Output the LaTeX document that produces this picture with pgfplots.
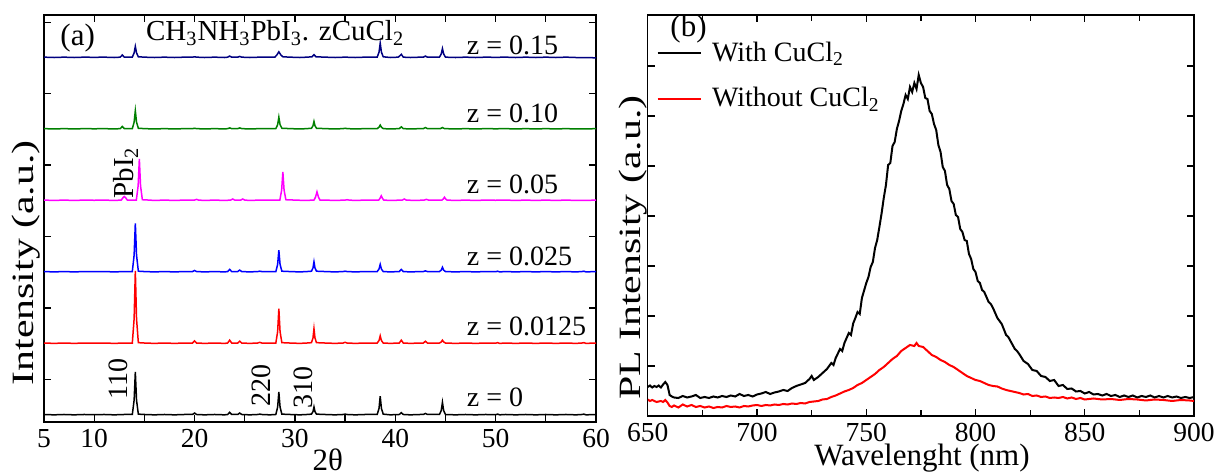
\documentclass[border=0pt]{standalone}
\usepackage{fontspec}
\setmainfont{Liberation Serif}
\usepackage{graphicx}
\usepackage{pgfplots}
\pgfplotsset{compat=1.18}
\definecolor{cnavy}{RGB}{0,0,128}
\definecolor{cgreen}{RGB}{0,128,0}
\definecolor{cmag}{RGB}{255,0,255}
\definecolor{cblue}{RGB}{0,0,255}
\definecolor{cred}{RGB}{255,0,0}
\newcommand{\zf}{\fontsize{14}{16}\selectfont}
\pgfplotsset{myax/.style={
  scale only axis, anchor=south west, tick align=inside,
  major tick length=3.5pt, minor tick length=3pt,
  every tick/.style={black, line width=0.6pt},
  axis line style={line width=0.6pt},
  tick label style={font=\rmfamily\fontsize{13.75}{16}\selectfont},
  label style={font=\rmfamily\fontsize{15.5}{18}\selectfont, inner sep=0pt},
  /pgf/number format/assume math mode=true,
}}
\begin{document}
\begin{tikzpicture}
\useasboundingbox (0,0) rectangle (608pt,237pt);
\begin{axis}[myax, at={(22pt,26pt)}, width=276pt, height=203.5pt,
  xmin=5, xmax=60, ymin=-0.19, ymax=11.2,
  xtick={5,10,...,60}, xticklabels={5,10,,20,,30,,40,,50,,60},
  ytick={1,3,5,7,9,11}, yticklabels={},
  xlabel={2θ}, ylabel={\scalebox{1.35}[1]{Intensity (a.u.)}},
  xlabel style={at={(axis description cs:0.514,-0.094)}, anchor=center},
  ylabel style={at={(axis description cs:-0.0317,0.391)}, anchor=center}]
% z = 0
\addplot[black, line width=0.75pt] coordinates {(5,0.02)(6,0.01)(7,0.02)(8,0.01)(9,0.02)(10,0.015)(11,0.02)(12,0.01)(13,0.02)
(13.8,0.02)(13.98,0.42)(14.1,1.21)(14.22,0.42)(14.4,0.03)
(15,0.02)(16,0.01)(17,0.02)(18,0.01)(19,0.02)(19.8,0.02)(20.0,0.06)(20.2,0.02)
(21,0.01)(22,0.02)(23,0.01)(23.3,0.02)(23.5,0.08)(23.7,0.02)(24.3,0.02)(24.5,0.06)(24.7,0.02)
(25.5,0.01)(26.3,0.02)(26.5,0.03)(26.7,0.02)(27.5,0.01)
(28.1,0.02)(28.28,0.23)(28.4,0.65)(28.52,0.23)(28.7,0.03)
(29.5,0.02)(30.5,0.01)(31.2,0.02)(31.65,0.03)(31.8,0.1)(31.9,0.23)(32.0,0.1)(32.15,0.03)
(33,0.02)(34,0.01)(34.8,0.02)(35.0,0.03)(35.2,0.02)(36,0.01)(37,0.02)(38,0.02)
(38.2,0.02)(38.38,0.19)(38.5,0.53)(38.62,0.19)(38.8,0.03)
(39.5,0.01)(40.4,0.02)(40.6,0.07)(40.8,0.02)(41.5,0.01)(42.5,0.02)(42.8,0.02)(43.0,0.05)(43.2,0.02)(44.0,0.02)
(44.4,0.02)(44.58,0.13)(44.7,0.36)(44.82,0.13)(45.0,0.02)
(46,0.01)(47,0.02)(48,0.01)(49,0.02)(50,0.015)(50.2,0.03)(50.4,0.01)(51,0.02)(52,0.01)(53,0.02)(54,0.01)(55,0.02)(56,0.01)(57,0.02)(58,0.01)(58.6,0.02)(58.8,0.03)(59,0.01)(60,0.02)};
% z = 0.0125
\addplot[cred, line width=0.75pt] coordinates {(5,2.02)(6,2.01)(7,2.02)(8,2.01)(9,2.02)(10,2.015)(11,2.02)(12,2.01)(13,2.02)
(13.8,2.02)(13.98,2.7)(14.1,4.04)(14.22,2.7)(14.4,2.03)
(15,2.02)(16,2.01)(17,2.02)(18,2.01)(19,2.02)(19.8,2.02)(20.0,2.08)(20.2,2.02)
(21,2.01)(22,2.02)(23,2.01)(23.3,2.02)(23.5,2.10)(23.7,2.02)(24.3,2.02)(24.5,2.07)(24.7,2.02)
(25.5,2.01)(26.3,2.02)(26.5,2.04)(26.7,2.02)(27.5,2.02)
(28.1,2.02)(28.28,2.34)(28.4,2.98)(28.52,2.34)(28.7,2.03)
(29.5,2.02)(30.5,2.01)(31.2,2.02)(31.65,2.03)(31.8,2.16)(31.9,2.42)(32.0,2.16)(32.15,2.03)
(33,2.02)(34,2.01)(34.8,2.02)(35.0,2.04)(35.2,2.02)(36,2.01)(37,2.02)(38,2.02)
(38.2,2.02)(38.38,2.09)(38.5,2.22)(38.62,2.09)(38.8,2.02)
(39.5,2.01)(40.4,2.02)(40.6,2.10)(40.8,2.02)(41.5,2.01)(42.5,2.02)(42.8,2.02)(43.0,2.07)(43.2,2.02)(44.0,2.02)
(44.4,2.02)(44.58,2.05)(44.7,2.10)(44.82,2.05)(45.0,2.02)
(46,2.01)(47,2.02)(48,2.01)(49,2.02)(50,2.015)(50.2,2.03)(50.4,2.01)(51,2.02)(52,2.01)(53,2.02)(54,2.01)(55,2.02)(56,2.01)(57,2.02)(58,2.01)(58.6,2.02)(58.8,2.03)(59,2.01)(60,2.02)};
% z = 0.025
\addplot[cblue, line width=0.75pt] coordinates {(5,4.02)(6,4.01)(7,4.02)(8,4.01)(9,4.02)(10,4.015)(11,4.02)(12,4.01)(13,4.02)
(13.8,4.02)(13.98,4.48)(14.1,5.37)(14.22,4.48)(14.4,4.03)
(15,4.02)(16,4.01)(17,4.02)(18,4.01)(19,4.02)(19.8,4.02)(20.0,4.05)(20.2,4.02)
(21,4.01)(22,4.02)(23,4.01)(23.3,4.02)(23.5,4.08)(23.7,4.02)(24.3,4.02)(24.5,4.06)(24.7,4.02)
(25.5,4.01)(26.3,4.02)(26.5,4.03)(26.7,4.02)(27.5,4.02)
(28.1,4.02)(28.28,4.22)(28.4,4.62)(28.52,4.22)(28.7,4.03)
(29.5,4.02)(30.5,4.01)(31.2,4.02)(31.65,4.03)(31.8,4.12)(31.9,4.29)(32.0,4.12)(32.15,4.03)
(33,4.02)(34,4.01)(34.8,4.02)(35.0,4.03)(35.2,4.02)(36,4.01)(37,4.02)(38,4.02)
(38.2,4.02)(38.38,4.09)(38.5,4.22)(38.62,4.09)(38.8,4.02)
(39.5,4.01)(40.4,4.02)(40.6,4.08)(40.8,4.02)(41.5,4.01)(42.5,4.02)(42.8,4.02)(43.0,4.04)(43.2,4.02)(44.0,4.02)
(44.4,4.02)(44.58,4.06)(44.7,4.14)(44.82,4.06)(45.0,4.02)
(46,4.01)(47,4.02)(48,4.01)(49,4.02)(50,4.015)(50.2,4.03)(50.4,4.01)(51,4.02)(52,4.01)(53,4.02)(54,4.01)(55,4.02)(56,4.01)(57,4.02)(58,4.01)(58.6,4.02)(58.8,4.03)(59,4.01)(60,4.02)};
% z = 0.05
\addplot[cmag, line width=0.75pt] coordinates {(5,6.02)(6,6.01)(7,6.02)(8,6.01)(9,6.02)(10,6.015)(11,6.02)(12,6.01)
(12.7,6.02)(12.85,6.08)(13.0,6.12)(13.15,6.08)(13.3,6.02)(13.8,6.02)
(14.2,6.02)(14.38,6.42)(14.5,7.17)(14.62,6.42)(14.8,6.03)
(15.5,6.02)(16,6.01)(17,6.02)(18,6.01)(19,6.02)(20.0,6.02)(20.2,6.04)(20.4,6.02)
(21,6.01)(22,6.02)(23,6.01)(23.6,6.02)(23.8,6.05)(24.0,6.02)(24.6,6.02)(24.8,6.05)(25.0,6.02)
(25.5,6.01)(26.5,6.02)(27.5,6.02)
(28.5,6.02)(28.68,6.30)(28.8,6.81)(28.92,6.30)(29.1,6.03)
(30,6.02)(31,6.01)(31.9,6.02)(32.05,6.10)(32.2,6.25)(32.35,6.10)(32.5,6.02)
(33,6.02)(34,6.01)(35.0,6.02)(35.2,6.03)(35.4,6.02)(36,6.01)(37,6.02)(38,6.02)
(38.35,6.02)(38.48,6.07)(38.6,6.14)(38.72,6.07)(38.85,6.02)
(39.5,6.01)(40.7,6.02)(40.9,6.05)(41.1,6.02)(42,6.01)(42.9,6.02)(43.1,6.04)(43.3,6.02)(44.2,6.02)
(44.65,6.02)(44.78,6.05)(44.9,6.10)(45.02,6.05)(45.15,6.02)
(46,6.01)(47,6.02)(48,6.01)(49,6.02)(50,6.015)(50.4,6.02)(51,6.02)(52,6.01)(53,6.02)(54,6.01)(55,6.02)(56,6.01)(57,6.02)(58,6.01)(59,6.01)(60,6.02)};
% z = 0.10
\addplot[cgreen, line width=0.75pt] coordinates {(5,8.02)(6,8.01)(7,8.02)(8,8.01)(9,8.02)(10,8.015)(11,8.02)(12,8.01)
(12.6,8.02)(12.8,8.08)(13.0,8.02)(13.5,8.02)
(13.8,8.02)(13.98,8.2)(14.1,8.52)(14.22,8.2)(14.4,8.03)
(15,8.02)(16,8.01)(17,8.02)(18,8.01)(19,8.02)(19.8,8.02)(20.0,8.03)(20.2,8.02)
(21,8.01)(22,8.02)(23,8.01)(23.3,8.02)(23.5,8.04)(23.7,8.02)(24.3,8.02)(24.5,8.04)(24.7,8.02)
(25.5,8.01)(26.5,8.02)(27.5,8.02)
(28.1,8.02)(28.28,8.13)(28.4,8.34)(28.52,8.13)(28.7,8.03)
(29.5,8.02)(30.5,8.01)(31.2,8.02)(31.65,8.03)(31.8,8.1)(31.9,8.22)(32.0,8.1)(32.15,8.03)
(33,8.02)(34,8.01)(34.8,8.02)(35.0,8.03)(35.2,8.02)(36,8.01)(37,8.02)(38,8.02)
(38.2,8.02)(38.38,8.06)(38.5,8.12)(38.62,8.06)(38.8,8.02)
(39.5,8.01)(40.4,8.02)(40.6,8.07)(40.8,8.02)(41.5,8.01)(42.5,8.02)(42.8,8.02)(43.0,8.05)(43.2,8.02)(44.0,8.02)
(44.5,8.02)(44.7,8.05)(44.9,8.02)
(46,8.01)(47,8.02)(48,8.01)(49,8.02)(50,8.015)(51,8.02)(52,8.01)(53,8.02)(54,8.01)(55,8.02)(56,8.01)(57,8.02)(58,8.01)(59,8.01)(60,8.02)};
% z = 0.15
\addplot[cnavy, line width=0.75pt] coordinates {(5,10.02)(6,10.01)(7,10.02)(8,10.01)(9,10.02)(10,10.015)(11,10.02)(12,10.01)
(12.6,10.02)(12.8,10.08)(13.0,10.02)(13.5,10.02)
(13.8,10.02)(13.98,10.14)(14.1,10.32)(14.22,10.14)(14.4,10.03)
(15,10.02)(16,10.01)(17,10.02)(18,10.01)(19,10.02)(19.8,10.02)(20.0,10.03)(20.2,10.02)
(21,10.01)(22,10.02)(23,10.01)(23.3,10.02)(23.5,10.05)(23.7,10.02)(24.3,10.02)(24.5,10.04)(24.7,10.02)
(25.5,10.01)(26.5,10.02)(27.5,10.02)
(28.0,10.02)(28.2,10.08)(28.4,10.17)(28.6,10.08)(28.8,10.03)
(29.5,10.02)(30.5,10.01)(31.2,10.02)(31.7,10.03)(31.9,10.09)(32.1,10.03)
(33,10.02)(34,10.01)(35,10.02)(36,10.01)(37,10.02)(38,10.02)
(38.2,10.02)(38.38,10.16)(38.5,10.41)(38.62,10.16)(38.8,10.03)
(39.5,10.01)(40.3,10.02)(40.5,10.07)(40.6,10.1)(40.8,10.02)(41.5,10.01)(42.5,10.02)(42.8,10.02)(43.0,10.05)(43.2,10.02)(44.0,10.02)
(44.4,10.02)(44.58,10.11)(44.7,10.26)(44.82,10.11)(45.0,10.02)
(46,10.01)(47,10.02)(48,10.01)(49,10.02)(50,10.015)(51,10.02)(52,10.01)(53,10.02)(54,10.01)(55,10.02)(56,10.01)(57,10.02)(58,10.01)(59,10.01)(60,10.0)};
\node[anchor=base west, inner sep=0, font=\fontsize{15.5}{18}\selectfont] at (axis cs:6.6,10.36) {(a)};
\node[anchor=base west, inner sep=0, font=\fontsize{14.5}{17}\selectfont] at (axis cs:15.13,10.48) {CH\textsubscript{3}NH\textsubscript{3}PbI\textsubscript{3}. zCuCl\textsubscript{2}};
\node[anchor=west, inner sep=0, rotate=90, font=\fontsize{14.5}{17}\selectfont] at (axis cs:13.15,6.05) {PbI\textsubscript{2}};
\node[anchor=west, inner sep=0, rotate=90, font=\zf] at (axis cs:12.37,0.42) {110};
\node[anchor=west, inner sep=0, rotate=90, font=\zf] at (axis cs:26.68,0.23) {220};
\node[anchor=west, inner sep=0, rotate=90, font=\zf] at (axis cs:30.83,0.19) {310};
\node[anchor=base west, inner sep=0, font=\zf] at (axis cs:47.1,10.1) {z = 0.15};
\node[anchor=base west, inner sep=0, font=\zf] at (axis cs:47.1,8.19) {z = 0.10};
\node[anchor=base west, inner sep=0, font=\zf] at (axis cs:47.1,6.21) {z = 0.05};
\node[anchor=base west, inner sep=0, font=\zf] at (axis cs:47.1,4.2) {z = 0.025};
\node[anchor=base west, inner sep=0, font=\zf] at (axis cs:47.1,2.24) {z = 0.0125};
\node[anchor=base west, inner sep=0, font=\zf] at (axis cs:47.1,0.23) {z = 0};
\end{axis}

\begin{axis}[myax, at={(323.9pt,29pt)}, width=273.1pt, height=200.5pt,
  xmin=650, xmax=900, ymin=0, ymax=8.02,
  xtick={650,700,...,900}, minor xtick={675,725,...,875},
  ytick={1,...,7}, yticklabels={},
  xlabel={Wavelenght (nm)}, ylabel={\scalebox{1.35}[1]{PL Intensity (a.u.)}},
  xlabel style={at={(axis description cs:0.502,-0.105)}, anchor=center},
  ylabel style={at={(axis description cs:-0.0271,0.42)}, anchor=center},
  legend cell align=left,
  legend image code/.code={\draw[#1] (0pt,3.3pt) -- (21.7pt,3.3pt);},
  legend style={at={(axis description cs:0.0163,0.945)}, anchor=north west,
    draw=none, fill=none, inner sep=0pt, outer sep=0pt, row sep=0pt,
    font=\zf, nodes={inner sep=0pt, text height=12pt, text depth=10.85pt},
    /tikz/every odd column/.append style={column sep=5pt}}]
\addplot[black, line width=1pt] table {
x y
650 0.58
651 0.61
652 0.57
653 0.60
654 0.58
655 0.61
656 0.57
657 0.63
658 0.68
659 0.62
660 0.42
661 0.39
662 0.37
664 0.36
666 0.40
668 0.37
670 0.39
672 0.42
674 0.36
676 0.38
678 0.36
680 0.39
682 0.37
684 0.40
686 0.38
688 0.41
690 0.39
692 0.44
694 0.40
696 0.42
698 0.39
700 0.43
702 0.45
704 0.48
706 0.44
708 0.47
710 0.49
712 0.52
714 0.50
716 0.56
718 0.60
720 0.63
722 0.66
724 0.74
725 0.80
726 0.72
728 0.78
730 0.86
732 0.94
734 1.06
735 1.02
736 1.16
738 1.34
739 1.30
740 1.46
742 1.66
743 1.62
744 1.85
745 1.96
746 2.08
747 2.04
748 2.36
750 2.66
751 2.78
752 2.98
753 3.08
754 3.36
755 3.52
756 3.78
757 4.05
758 4.36
759 4.62
760 5.02
761 5.06
762 5.40
763 5.48
764 5.74
765 5.90
766 6.10
767 6.24
768 6.42
769 6.34
770 6.58
771 6.48
772 6.66
773 6.54
774 6.82
775 6.66
776 6.58
777 6.36
778 6.34
779 6.10
780 6.04
781 5.84
782 5.72
783 5.42
784 5.28
785 4.98
786 4.90
787 4.62
788 4.54
789 4.30
790 4.24
791 4.02
792 3.98
793 3.74
794 3.68
795 3.52
796 3.50
797 3.24
798 3.14
799 2.94
800 2.88
801 2.70
802 2.66
803 2.52
804 2.48
806 2.28
807 2.24
808 2.16
810 1.96
811 1.90
812 1.84
814 1.62
815 1.58
816 1.50
818 1.34
819 1.30
820 1.24
822 1.10
824 1.04
826 0.92
828 0.90
830 0.80
832 0.78
834 0.70
836 0.72
838 0.60
840 0.62
842 0.54
844 0.55
846 0.49
848 0.50
850 0.45
852 0.48
854 0.43
856 0.44
858 0.41
860 0.44
862 0.40
864 0.42
866 0.38
868 0.41
870 0.38
872 0.41
874 0.37
876 0.40
878 0.38
880 0.41
882 0.37
884 0.40
886 0.37
888 0.40
890 0.37
892 0.39
894 0.36
896 0.38
898 0.36
900 0.38
};
\addlegendentry{With CuCl\textsubscript{2}}
\addplot[cred, line width=1pt] table {
x y
650 0.33
651 0.30
652 0.32
654 0.28
656 0.30
657 0.28
658 0.32
659 0.27
660 0.20
661 0.18
662 0.21
664 0.17
666 0.23
668 0.19
670 0.22
672 0.18
674 0.20
676 0.17
678 0.19
680 0.16
682 0.18
684 0.17
686 0.20
688 0.18
690 0.19
692 0.17
694 0.20
696 0.19
698 0.21
700 0.22
702 0.20
704 0.22
706 0.21
708 0.23
710 0.22
712 0.24
714 0.23
716 0.25
718 0.24
720 0.26
722 0.25
724 0.28
726 0.29
728 0.30
730 0.33
732 0.34
734 0.38
736 0.41
738 0.45
740 0.49
742 0.52
744 0.56
746 0.62
748 0.66
750 0.72
752 0.78
754 0.84
756 0.92
758 0.98
760 1.06
762 1.14
764 1.20
766 1.30
768 1.36
770 1.42
772 1.40
773 1.46
774 1.40
776 1.38
778 1.30
780 1.22
782 1.18
784 1.12
786 1.08
788 1.02
790 0.98
792 0.92
794 0.86
796 0.80
798 0.76
800 0.72
802 0.70
804 0.66
806 0.62
808 0.60
810 0.59
812 0.55
814 0.52
816 0.50
818 0.48
820 0.46
822 0.43
824 0.44
826 0.40
828 0.41
830 0.38
832 0.39
834 0.36
836 0.37
838 0.36
840 0.38
842 0.35
844 0.37
846 0.34
848 0.36
850 0.33
854 0.35
858 0.33
862 0.34
866 0.32
870 0.34
874 0.33
878 0.31
882 0.33
886 0.32
890 0.30
894 0.32
898 0.31
900 0.30
};
\addlegendentry{Without CuCl\textsubscript{2}}
\node[anchor=base west, inner sep=0, font=\fontsize{15.5}{18}\selectfont] at (axis cs:660.2,7.59) {(b)};
\end{axis}
\end{tikzpicture}
\end{document}
